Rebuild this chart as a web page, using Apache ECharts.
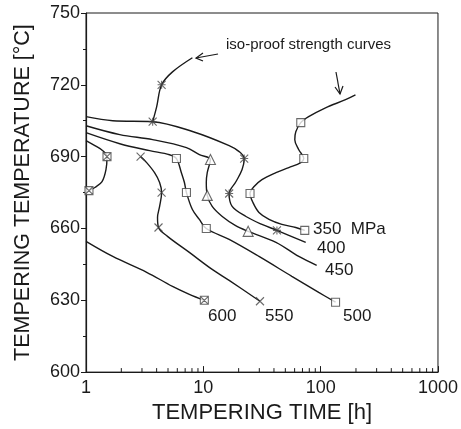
<!DOCTYPE html>
<html>
<head>
<meta charset="utf-8">
<script src="https://cdn.jsdelivr.net/npm/echarts@6/dist/echarts.min.js"></script>
<style>
  html, body { margin: 0; padding: 0; background: #fff; }
  #main { width: 461px; height: 429px; }
</style>
</head>
<body>
<div id="main"></div>
<script>
// tempering time [h], tempering temperature [°C]
var curve350 = [[198,715.8],[163,713.8],[110,710.4],[79,706.7],[67.7,704.2],[61.4,700.4],[60.2,697.1],[65.1,692.9],[71.8,689.2],[67.7,687.5],[53.5,685.4],[41.6,683.3],[31.6,680.4],[27.1,677.5],[25.0,674.6],[26.5,670.8],[29.8,666.7],[36.3,663.8],[46.7,661.7],[61.4,660.4],[73.2,659.2]];
var marks350 = [[67.7,704.2],[71.8,689.2],[25.0,674.6],[73.2,659.2]];

var curve400 = [[1,706.7],[1.69,705],[3.7,704.6],[8.2,700.4],[16.6,694.6],[20.2,692.1],[22.3,689.2],[21.4,684.6],[19.0,679.6],[16.6,674.6],[17.6,669.2],[23.1,665],[31.6,661.7],[42.4,659.2],[74.6,654.2]];
var branch400 = [[3.7,704.6],[4.0,710.8],[4.41,720],[5.46,725.4],[8.07,731.3]];
var marks400 = [[3.7,704.6],[4.41,720],[22.3,689.2],[16.6,674.6],[42.4,659.2]];

var curve450 = [[1,702.9],[1.94,699.2],[3.7,697.1],[7.18,693.8],[9.25,690.8],[11.5,688.8],[10.8,683.3],[10.6,679.2],[10.8,673.8],[11.9,669.2],[14.5,665],[18.7,661.3],[24.1,658.8],[41.6,654.2],[65.1,648.3],[92.5,644.6]];
var marks450 = [[11.5,688.8],[10.8,673.8],[24.1,658.8]];

var curve500 = [[1,700],[1.94,695.4],[3.49,692.5],[5.15,690.8],[5.9,689.2],[6.5,683.3],[6.9,679.2],[7.18,675],[8.07,667.9],[9.25,663.8],[10.6,660],[16.6,655.4],[29.8,648.3],[56.8,640],[96.2,633.3],[134,629.2]];
var marks500 = [[5.9,689.2],[7.18,675],[10.6,660],[134,629.2]];

var curve550 = [[2.92,690],[3.29,687.5],[3.84,683.3],[4.24,679.2],[4.41,675],[4.24,669.2],[4.07,664.6],[4.15,660.4],[4.95,656.7],[7.6,650],[11.9,642.9],[16.6,638.3],[30.4,629.6]];
var marks550 = [[2.92,690],[4.41,675],[4.15,660.4],[30.4,629.6]];

var curve600a = [[1,696.7],[1.19,694.6],[1.39,692.5],[1.51,690],[1.48,684.6],[1.37,679.6],[1.19,677.1],[1.06,675.8]];
var curve600b = [[1,654.6],[1.69,648.3],[3.29,641.7],[5.46,635.8],[7.6,632.5],[10.2,630]];
var marks600 = [[1.51,690],[1.06,675.8],[10.2,630]];

var xMin = 1, xMax = 1000;
var yMin = 600, yMax = 750, yStep = 30;

// minor log ticks 2..9 per decade
var minorTicks = [];
for (var d = xMin; d < xMax; d *= 10) {
  for (var k = 2; k <= 9; k++) minorTicks.push([k * d, yMin]);
}

var FONT = 'Liberation Sans, Arial, Helvetica, sans-serif';
var INK = '#1a1a1a';

var symAster = 'path://M0,0L10,10M10,0L0,10M5,0L5,10M0,5L10,5';
var symCross = 'path://M0,0L10,10M10,0L0,10';
var symBoxX = 'path://M0,0L10,0L10,10L0,10ZM0,0L10,10M10,0L0,10';

function curve(data) {
  return {
    type: 'line', data: data, smooth: 0.35, showSymbol: false,
    lineStyle: { color: INK, width: 1.4 }, z: 2, silent: true
  };
}
function marks(data, symbol, size) {
  return {
    type: 'scatter', data: data, symbol: symbol, symbolSize: size,
    itemStyle: { color: '#fff', borderColor: '#444', borderWidth: 1.1 },
    z: 3, silent: true
  };
}

var chart = echarts.init(document.getElementById('main'));
chart.setOption({
  animation: false,
  grid: {
    left: 86, top: 13, right: 21, bottom: 56,
    show: true, borderColor: INK, borderWidth: 1
  },
  xAxis: {
    type: 'log', logBase: 10, min: xMin, max: xMax,
    name: 'TEMPERING TIME [h]', nameLocation: 'middle', nameGap: 26,
    nameTextStyle: { fontFamily: FONT, fontSize: 22, color: INK, verticalAlign: 'top' },
    axisLine: { lineStyle: { color: INK, width: 1.2 } },
    axisTick: { inside: true, length: 6, lineStyle: { color: INK } },
    axisLabel: {
      fontFamily: FONT, fontSize: 18, color: INK, margin: 7,
      formatter: function (v) { return String(Math.round(v)); }
    },
    splitLine: { show: false }
  },
  yAxis: {
    type: 'value', min: yMin, max: yMax, interval: yStep,
    name: 'TEMPERING TEMPERATURE [°C]', nameLocation: 'middle', nameGap: 52, nameRotate: 90,
    nameTextStyle: { fontFamily: FONT, fontSize: 21.5, color: INK },
    axisLine: { lineStyle: { color: INK, width: 1.2 } },
    axisTick: { inside: false, length: 5, lineStyle: { color: INK } },
    minorTick: { show: true, splitNumber: 2, length: 3, lineStyle: { color: INK } },
    axisLabel: { fontFamily: FONT, fontSize: 18, color: INK, margin: 6 },
    splitLine: { show: false }
  },
  series: [
    curve(curve350), curve(curve400), curve(branch400), curve(curve450),
    curve(curve500), curve(curve550), curve(curve600a), curve(curve600b),
    marks(marks350, 'rect', 8),
    marks(marks400, symAster, 8),
    marks(marks450, 'triangle', 10),
    marks(marks500, 'rect', 8),
    marks(marks550, symCross, 8),
    marks(marks600, symBoxX, 8),
    {
      type: 'custom', data: minorTicks, silent: true, z: 4,
      renderItem: function (params, api) {
        var p = api.coord([api.value(0), api.value(1)]);
        return {
          type: 'line',
          shape: { x1: p[0], y1: p[1], x2: p[0], y2: p[1] - 4 },
          style: { stroke: INK, lineWidth: 1 }
        };
      }
    }
  ],
  graphic: [
    { type: 'text', left: 226, top: 37, style: { text: 'iso-proof strength curves', font: '15px ' + FONT, fill: INK } },
    { type: 'text', left: 313, top: 221, style: { text: '350  MPa', font: '17px ' + FONT, fill: INK } },
    { type: 'text', left: 317, top: 240, style: { text: '400', font: '17px ' + FONT, fill: INK } },
    { type: 'text', left: 325, top: 262, style: { text: '450', font: '17px ' + FONT, fill: INK } },
    { type: 'text', left: 343, top: 308, style: { text: '500', font: '17px ' + FONT, fill: INK } },
    { type: 'text', left: 265, top: 308, style: { text: '550', font: '17px ' + FONT, fill: INK } },
    { type: 'text', left: 208, top: 308, style: { text: '600', font: '17px ' + FONT, fill: INK } },
    { type: 'polyline', shape: { points: [[218, 54], [196, 58]] }, style: { stroke: INK, lineWidth: 1.2, fill: null } },
    { type: 'polyline', shape: { points: [[203, 53], [196, 58], [203, 61]] }, style: { stroke: INK, lineWidth: 1.2, fill: null } },
    { type: 'polyline', shape: { points: [[336, 72], [340, 94]] }, style: { stroke: INK, lineWidth: 1.2, fill: null } },
    { type: 'polyline', shape: { points: [[335, 87], [340, 94], [343, 86]] }, style: { stroke: INK, lineWidth: 1.2, fill: null } }
  ]
});
</script>
</body>
</html>
